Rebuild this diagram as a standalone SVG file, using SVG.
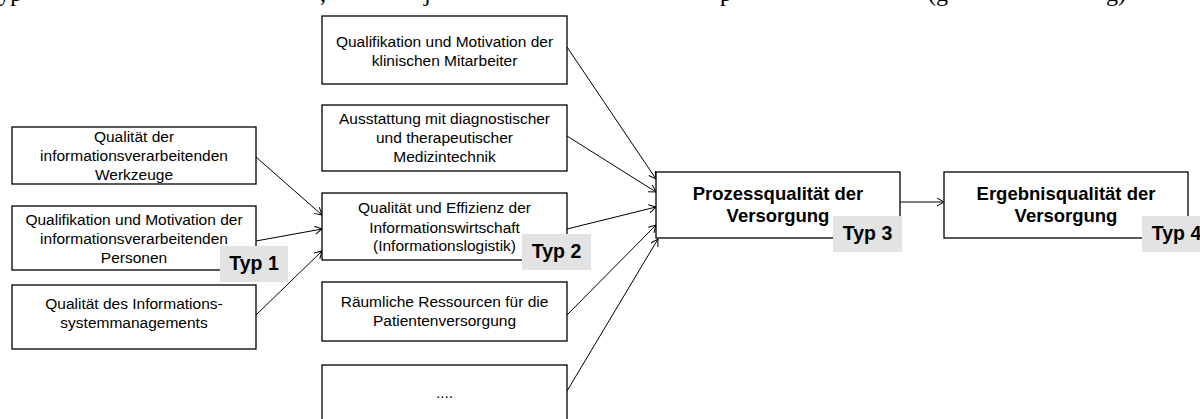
<svg xmlns="http://www.w3.org/2000/svg" width="1200" height="419" viewBox="0 0 1200 419">
  <style>
    .box { fill: #ffffff; stroke: #000000; stroke-width: 1.3; }
    .txt { font-family: "Liberation Sans", Arial, sans-serif; font-size: 15.5px; fill: #000000; text-anchor: middle; }
    .big { font-family: "Liberation Sans", Arial, sans-serif; font-size: 18.5px; font-weight: bold; fill: #000000; text-anchor: middle; }
    .tag { fill: #e3e3e3; stroke: none; }
    .tagtxt { font-family: "Liberation Sans", Arial, sans-serif; font-size: 19.5px; font-weight: bold; fill: #000000; text-anchor: middle; }
    .edge { fill: none; stroke: #000000; stroke-width: 1; marker-end: url(#arrow); }
    .serif { font-family: "Liberation Serif", "Times New Roman", serif; font-size: 24px; fill: #000000; }
  </style>
  <defs>
    <marker id="arrow" markerUnits="userSpaceOnUse" markerWidth="12" markerHeight="12" refX="0" refY="0" viewBox="-9 -6 12 12" orient="auto">
      <path d="M-7,-4 L0,0 L-7,4" fill="none" stroke="#000000" stroke-width="1"/>
    </marker>
  </defs>

  <rect width="1200" height="419" fill="#ffffff"/>

  <!-- running text line above the figure, only its lower edge is on the page -->
  <g id="page-text" class="serif">
    <text x="-14.7" y="1">Typ</text>
    <text x="320" y="1">,</text>
    <text x="424" y="1">j</text>
    <text x="720" y="1">p</text>
    <text x="928" y="1">(g</text>
    <text x="1106" y="1">g)</text>
  </g>

  <!-- connectors -->
  <g id="connectors">
    <line class="edge" x1="256" y1="157" x2="322" y2="215"/>
    <line class="edge" x1="256" y1="241" x2="322" y2="229"/>
    <line class="edge" x1="256" y1="315" x2="322" y2="251"/>
    <line class="edge" x1="567" y1="47" x2="656" y2="179"/>
    <line class="edge" x1="567" y1="136" x2="656" y2="192"/>
    <line class="edge" x1="567" y1="229" x2="656" y2="207"/>
    <line class="edge" x1="567" y1="315" x2="656" y2="225"/>
    <line class="edge" x1="567" y1="391" x2="658" y2="239"/>
    <line class="edge" x1="900" y1="202" x2="944" y2="202"/>
  </g>

  <!-- left column -->
  <g id="werkzeuge">
    <rect class="box" x="12" y="127" width="244" height="57"/>
    <text class="txt" x="134" y="141.5">Qualität der</text>
    <text class="txt" x="134" y="160.5">informationsverarbeitenden</text>
    <text class="txt" x="134" y="179.5">Werkzeuge</text>
  </g>
  <g id="personen">
    <rect class="box" x="12" y="206" width="244" height="64"/>
    <text class="txt" x="134" y="225">Qualifikation und Motivation der</text>
    <text class="txt" x="134" y="244">informationsverarbeitenden</text>
    <text class="txt" x="134" y="263">Personen</text>
  </g>
  <g id="ism">
    <rect class="box" x="12" y="285" width="244" height="64"/>
    <text class="txt" x="134" y="308.5">Qualität des Informations-</text>
    <text class="txt" x="134" y="328">systemmanagements</text>
  </g>
  <g id="typ1">
    <rect class="tag" x="220" y="246" width="68" height="36"/>
    <text class="tagtxt" x="254" y="270">Typ 1</text>
  </g>

  <!-- middle column -->
  <g id="mitarbeiter">
    <rect class="box" x="322" y="16" width="245" height="68"/>
    <text class="txt" x="444.5" y="46.5">Qualifikation und Motivation der</text>
    <text class="txt" x="444.5" y="65.5">klinischen Mitarbeiter</text>
  </g>
  <g id="medizintechnik">
    <rect class="box" x="322" y="105" width="245" height="66"/>
    <text class="txt" x="444.5" y="124">Ausstattung mit diagnostischer</text>
    <text class="txt" x="444.5" y="143">und therapeutischer</text>
    <text class="txt" x="444.5" y="162">Medizintechnik</text>
  </g>
  <g id="informationswirtschaft">
    <rect class="box" x="322" y="193" width="245" height="67"/>
    <text class="txt" x="444.5" y="213">Qualität und Effizienz der</text>
    <text class="txt" x="444.5" y="232.5">Informationswirtschaft</text>
    <text class="txt" x="444.5" y="251">(Informationslogistik)</text>
  </g>
  <g id="typ2">
    <rect class="tag" x="522" y="234" width="69" height="36"/>
    <text class="tagtxt" x="556.5" y="258">Typ 2</text>
  </g>
  <g id="ressourcen">
    <rect class="box" x="322" y="282" width="245" height="59"/>
    <text class="txt" x="444.5" y="306.5">Räumliche Ressourcen für die</text>
    <text class="txt" x="444.5" y="326">Patientenversorgung</text>
  </g>
  <g id="weitere">
    <rect class="box" x="322" y="365" width="245" height="60"/>
    <text class="txt" x="444.5" y="397.5">....</text>
  </g>

  <!-- outcome chain -->
  <g id="prozessqualitaet">
    <rect class="box" x="656" y="172" width="244" height="66"/>
    <text class="big" x="778" y="199.5">Prozessqualität der</text>
    <text class="big" x="778" y="222">Versorgung</text>
  </g>
  <g id="typ3">
    <rect class="tag" x="833" y="216" width="69" height="36"/>
    <text class="tagtxt" x="867.5" y="240">Typ 3</text>
  </g>
  <g id="ergebnisqualitaet">
    <rect class="box" x="944" y="172" width="244" height="66"/>
    <text class="big" x="1066" y="199.5">Ergebnisqualität der</text>
    <text class="big" x="1066" y="222">Versorgung</text>
  </g>
  <g id="typ4">
    <rect class="tag" x="1142" y="216" width="69" height="36"/>
    <text class="tagtxt" x="1176.5" y="240">Typ 4</text>
  </g>
</svg>
